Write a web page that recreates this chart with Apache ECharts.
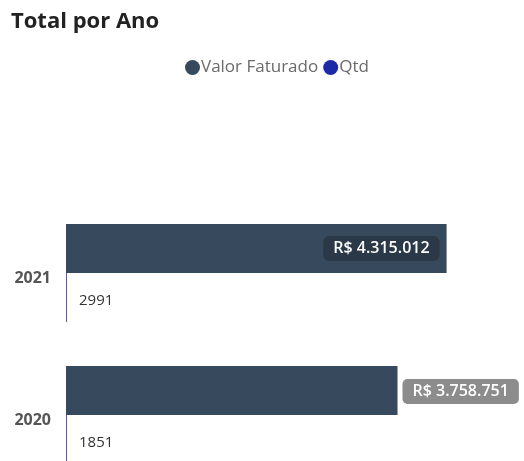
<!DOCTYPE html>
<html>
<head>
<meta charset="utf-8">
<script src="https://cdn.jsdelivr.net/npm/echarts@6/dist/echarts.min.js"></script>
<style>
  html, body { margin: 0; padding: 0; background: #fff; }
  #chart { width: 524px; height: 461px; }
</style>
</head>
<body>
<div id="chart"></div>
<script>
// dados
var anos = ['2021', '2020'];
var valorFaturado = [4315012, 3758751];
var qtd = [2991, 1851];

var corValor = '#36495d';
var corQtd = '#1c2aa6';

function formatReal(v) {
  return 'R$ ' + String(v).replace(/\B(?=(\d{3})+(?!\d))/g, '.');
}

var chart = echarts.init(document.getElementById('chart'));

// 2021 cabe dentro da barra, 2020 fica fora (como no Power BI)
var valorData = valorFaturado.map(function (v, i) {
  var dentro = i === 0;
  return {
    value: v,
    label: dentro ? {
      position: 'insideRight',
      distance: 7,
      backgroundColor: '#2a3847',
      borderRadius: 6
    } : {
      position: 'right',
      distance: 5,
      backgroundColor: '#8c8c8c',
      borderRadius: 5,
      offset: [0, 1]
    }
  };
});

var option = {
  backgroundColor: '#fff',
  textStyle: { fontFamily: 'Open Sans, sans-serif' },
  title: {
    text: 'Total por Ano',
    left: 6,
    top: 6,
    textStyle: { fontSize: 22, fontWeight: 'bold', color: '#222', fontFamily: 'Open Sans, sans-serif' }
  },
  legend: {
    top: 54,
    left: 180,
    icon: 'circle',
    itemWidth: 15,
    itemHeight: 15,
    itemGap: 5,
    textStyle: { color: '#6a6a6a', fontSize: 17, padding: [0, 0, 0, -4] },
    data: [
      { name: 'Valor Faturado', itemStyle: { color: corValor } },
      { name: 'Qtd', itemStyle: { color: corQtd } }
    ]
  },
  grid: {
    left: 66,
    top: 202,
    width: 441,
    height: 284,
    outerBoundsMode: 'none'
  },
  xAxis: {
    type: 'value',
    min: 0,
    max: 5000000,
    show: false
  },
  yAxis: {
    type: 'category',
    data: anos,
    inverse: true,
    axisLine: { show: false },
    axisTick: { show: false },
    axisLabel: {
      color: '#555',
      fontSize: 16,
      fontWeight: 'bold',
      margin: 15,
      verticalAlign: 'top',
      lineHeight: 10
    }
  },
  series: [{
    name: 'Valor Faturado',
    type: 'bar',
    data: valorData,
    barWidth: 49,
    barGap: '0%',
    itemStyle: { color: corValor },
    label: {
      show: true,
      color: '#fff',
      fontSize: 16,
      fontWeight: 600,
      padding: [5, 10, 4, 10],
      formatter: function (p) { return formatReal(p.value); }
    }
  }, {
    name: 'Qtd',
    type: 'bar',
    data: qtd,
    barWidth: 49,
    barMinHeight: 1,
    itemStyle: { color: '#5a5aa0' },
    label: {
      show: true,
      position: 'right',
      distance: 12,
      color: '#333',
      fontSize: 15,
      offset: [0, 3]
    }
  }]
};

chart.setOption(option);
</script>
</body>
</html>
